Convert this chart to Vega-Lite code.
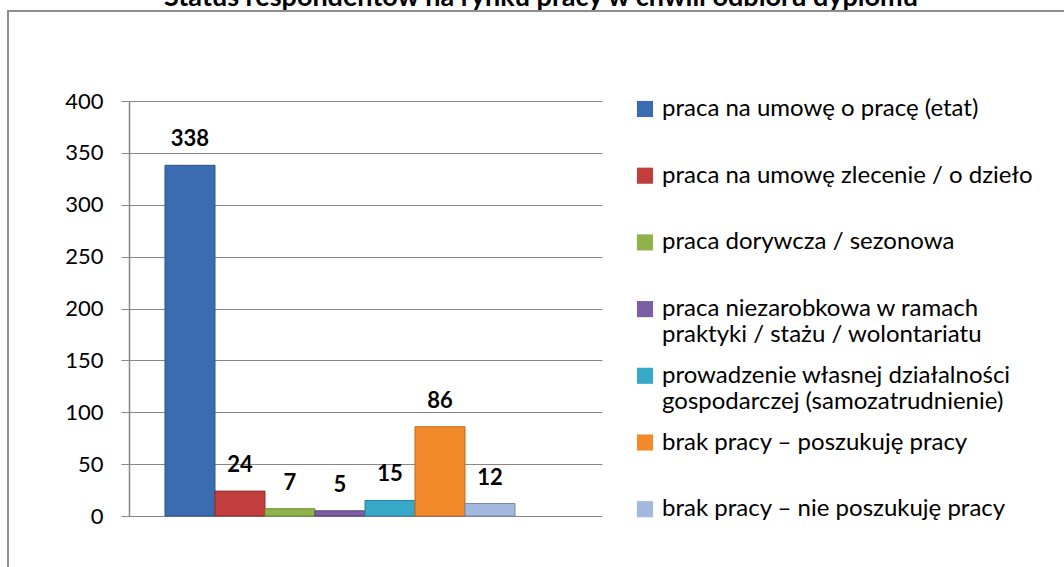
{
  "$schema": "https://vega.github.io/schema/vega-lite/v6.json",
  "width": 1058,
  "height": 558,
  "autosize": {"type": "none"},
  "padding": {"left": 8, "top": 11, "right": -2, "bottom": -2},
  "background": "white",
  "title": {
    "text": "Status respondentów na rynku pracy w chwili odbioru dyplomu",
    "font": "Lato",
    "fontSize": 27,
    "fontWeight": "bold",
    "color": "black",
    "anchor": "middle",
    "frame": "group",
    "baseline": "alphabetic",
    "offset": -6,
    "dy": 16,
    "dx": 4
  },
  "data": {
    "values": [
      {"status": "praca na umowę o pracę (etat)", "liczba": 338},
      {"status": "praca na umowę zlecenie / o dzieło", "liczba": 24},
      {"status": "praca dorywcza / sezonowa", "liczba": 7},
      {"status": "praca niezarobkowa w ramach praktyki / stażu / wolontariatu", "liczba": 5},
      {"status": "prowadzenie własnej działalności gospodarczej (samozatrudnienie)", "liczba": 15},
      {"status": "brak pracy – poszukuję pracy", "liczba": 86},
      {"status": "brak pracy – nie poszukuję pracy", "liczba": 12}
    ]
  },
  "encoding": {
    "x": {
      "field": "status",
      "type": "nominal",
      "sort": null,
      "axis": null,
      "scale": {
        "domain": [
          "praca na umowę o pracę (etat)",
          "praca na umowę zlecenie / o dzieło",
          "praca dorywcza / sezonowa",
          "praca niezarobkowa w ramach praktyki / stażu / wolontariatu",
          "prowadzenie własnej działalności gospodarczej (samozatrudnienie)",
          "brak pracy – poszukuję pracy",
          "brak pracy – nie poszukuję pracy",
          " "
        ],
        "range": [121, 594],
        "paddingInner": 0,
        "paddingOuter": 0.73,
        "align": 0.493
      }
    },
    "y": {
      "field": "liczba",
      "type": "quantitative",
      "scale": {"domain": [0, 400], "range": [505, 90], "nice": false, "zero": true},
      "axis": {
        "values": [0, 50, 100, 150, 200, 250, 300, 350, 400],
        "offset": -121,
        "title": null,
        "grid": true,
        "gridColor": "#868686",
        "gridWidth": 1,
        "domainColor": "#868686",
        "domainWidth": 1.5,
        "tickColor": "#868686",
        "tickSize": 8,
        "tickWidth": 1,
        "labelFont": "Lato",
        "labelFontSize": 22,
        "labelColor": "black",
        "labelPadding": 18,
        "labelFlush": false
      }
    }
  },
  "layer": [
    {
      "mark": {"type": "bar", "strokeWidth": 1},
      "encoding": {
        "fill": {
          "field": "status",
          "type": "nominal",
          "sort": null,
          "scale": {
            "domain": [
              "praca na umowę o pracę (etat)",
              "praca na umowę zlecenie / o dzieło",
              "praca dorywcza / sezonowa",
              "praca niezarobkowa w ramach praktyki / stażu / wolontariatu",
              "prowadzenie własnej działalności gospodarczej (samozatrudnienie)",
              "brak pracy – poszukuję pracy",
              "brak pracy – nie poszukuję pracy"
            ],
            "range": ["#3b6cb1", "#c13e3d", "#8fb24a", "#7b5ea3", "#38a8c9", "#f28a2b", "#a4b9e0"]
          },
          "legend": {
            "orient": "none",
            "legendX": 625,
            "legendY": 86,
            "title": null,
            "padding": 0,
            "columns": 1,
            "gridAlign": "all",
            "rowPadding": 16.7,
            "symbolType": "square",
            "symbolSize": 260,
            "symbolStrokeWidth": 0,
            "labelFont": "Lato",
            "labelFontSize": 24,
            "labelColor": "black",
            "labelOffset": 5,
            "labelLimit": 600,
            "labelExpr": "datum.label == 'praca niezarobkowa w ramach praktyki / stażu / wolontariatu' ? ['praca niezarobkowa w ramach', 'praktyki / stażu / wolontariatu'] : datum.label == 'prowadzenie własnej działalności gospodarczej (samozatrudnienie)' ? ['prowadzenie własnej działalności', 'gospodarczej (samozatrudnienie)'] : datum.label"
          }
        },
        "stroke": {
          "field": "status",
          "type": "nominal",
          "sort": null,
          "scale": {"range": ["#2c5287", "#8f2b2b", "#6e8c35", "#5d437e", "#2a819c", "#c2661a", "#7486ad"]},
          "legend": null
        }
      }
    },
    {
      "mark": {"type": "text", "dy": -19, "baseline": "alphabetic", "font": "Lato", "fontSize": 22, "fontWeight": "bold", "color": "black"},
      "encoding": {
        "text": {"field": "liczba", "type": "quantitative"}
      }
    }
  ],
  "config": {
    "view": {"stroke": "#8e8e8e", "strokeWidth": 2}
  }
}
